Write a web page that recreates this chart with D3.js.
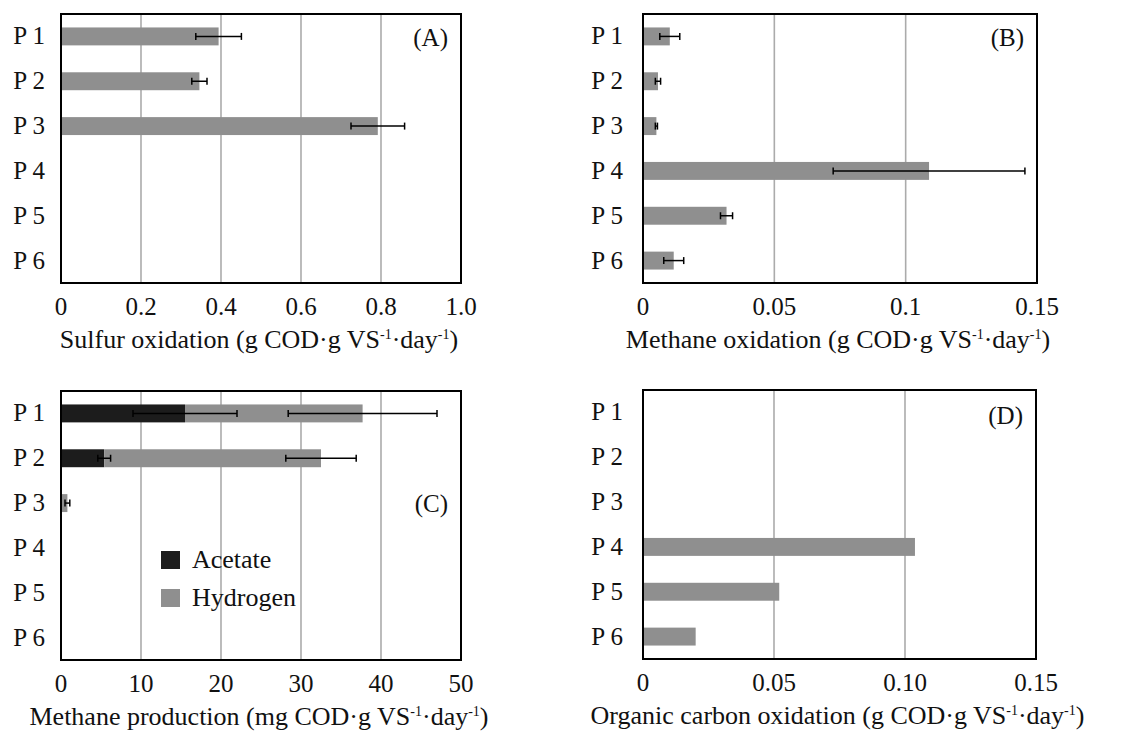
<!DOCTYPE html>
<html>
<head>
<meta charset="utf-8">
<script src="https://cdn.jsdelivr.net/npm/d3@7"></script>
<style>
  body { margin: 0; background: #fff; }
  svg text { font-family: "Liberation Serif", "Times New Roman", serif; fill: #111; }
</style>
</head>
<body>
<div id="chart"></div>
<script>
// rows, top to bottom
const rows = ["P 1", "P 2", "P 3", "P 4", "P 5", "P 6"];

// (A) sulfur oxidation, g COD/g VS/day
const sulfurVals = [0.394, 0.346, 0.792, null, null, null];
const sulfurErr  = [0.057, 0.019, 0.067, null, null, null];

// (B) methane oxidation
const methOxVals = [0.0102, 0.0057, 0.0051, 0.1089, 0.0318, 0.0117];
const methOxErr  = [0.0038, 0.0010, 0.0004, 0.0365, 0.0023, 0.0038];

// (C) methane production, mg COD/g VS/day (stacked)
const acetateVals = [15.5, 5.4, null, null, null, null];
const acetateErr  = [6.5, 0.8, null, null, null, null];
const hydrogenVals = [22.2, 27.1, 0.8, null, null, null];
const totalErr     = [9.3, 4.4, 0.3, null, null, null];

// (D) organic carbon oxidation
const orgCVals = [null, null, null, 0.1038, 0.052, 0.0201];

const ticksA = [0, 0.2, 0.4, 0.6, 0.8, 1.0];
const ticksB = [0, 0.05, 0.1, 0.15];
const ticksC = [0, 10, 20, 30, 40, 50];
const ticksD = [0, 0.05, 0.10, 0.15];

const W = 1129, H = 733;
const grey = "#8f8f8f", dark = "#1c1c1c", gridCol = "#ababab";
const fs = 25;

const svg = d3.select("#chart").append("svg")
  .attr("width", W).attr("height", H)
  .attr("font-family", "Liberation Serif, Times New Roman, serif");

function panel(opt){
  const g = svg.append("g").attr("transform", `translate(${opt.left},${opt.top})`);
  const x = d3.scaleLinear().domain([0, opt.max]).range([0, opt.w]);
  const y = d3.scaleBand().domain(rows).range([0, opt.h]).paddingInner(0.6).paddingOuter(0.3);

  // grid
  g.selectAll("line.grid")
    .data(opt.ticks.slice(1, -1))
    .join("line")
    .attr("x1", d => x(d)).attr("x2", d => x(d))
    .attr("y1", 0).attr("y2", opt.h)
    .attr("stroke", gridCol).attr("stroke-width", 1.6);

  // bars (stack segments)
  opt.series.forEach(s => {
    g.selectAll(null)
      .data(rows.map((r, i) => ({r, v: s.vals[i], base: s.base ? (s.base[i] || 0) : 0})).filter(d => d.v != null))
      .join("rect")
      .attr("x", d => x(d.base))
      .attr("y", d => y(d.r))
      .attr("width", d => x(d.base + d.v) - x(d.base))
      .attr("height", y.bandwidth())
      .attr("fill", s.color);
  });

  // error bars
  opt.errs.forEach(e => {
    const data = rows.map((r, i) => ({r, c: e.center[i], e: e.err[i]})).filter(d => d.c != null && d.e != null);
    const eg = g.selectAll(null).data(data).join("g")
      .attr("transform", d => `translate(0,${y(d.r) + y.bandwidth() / 2})`);
    eg.append("line")
      .attr("x1", d => x(d.c - d.e)).attr("x2", d => x(d.c + d.e))
      .attr("stroke", "#000").attr("stroke-width", 1.5);
    [-1, 1].forEach(sg => {
      eg.append("line")
        .attr("x1", d => x(d.c + sg * d.e)).attr("x2", d => x(d.c + sg * d.e))
        .attr("y1", -3.5).attr("y2", 3.5)
        .attr("stroke", "#000").attr("stroke-width", 1.5);
    });
  });

  // frame
  g.append("rect").attr("width", opt.w).attr("height", opt.h)
    .attr("fill", "none").attr("stroke", "#000").attr("stroke-width", 2);

  // row labels
  g.selectAll("text.row").data(rows).join("text")
    .attr("x", -opt.labelGap).attr("y", d => y(d) + y.bandwidth() / 2 + 8)
    .attr("text-anchor", "end").attr("font-size", fs).text(d => d);

  // tick labels
  g.selectAll("text.tick").data(opt.ticks).join("text")
    .attr("x", d => x(d)).attr("y", opt.h + 32)
    .attr("text-anchor", "middle").attr("font-size", fs)
    .text(d => opt.fmt(d));

  // axis title with superscripts
  const t = g.append("text").attr("x", opt.w / 2 - 2).attr("y", opt.h + 65)
    .attr("text-anchor", "middle").attr("font-size", 26);
  t.append("tspan").text(opt.title + " (" + opt.unit + " COD·g VS");
  t.append("tspan").attr("dy", -9).attr("font-size", 14).text("-1");
  t.append("tspan").attr("dy", 9).text("·day");
  t.append("tspan").attr("dy", -9).attr("font-size", 14).text("-1");
  t.append("tspan").attr("dy", 9).text(")");

  // panel letter
  g.append("text").attr("x", opt.w - 13).attr("y", opt.letterY)
    .attr("text-anchor", "end").attr("font-size", fs).text(opt.letter);

  return {g, x, y};
}

panel({
  left: 61, top: 14, w: 400, h: 269, max: 1.0, ticks: ticksA,
  fmt: d => d === 0 ? "0" : d3.format(".1f")(d),
  series: [{vals: sulfurVals, color: grey}],
  errs: [{center: sulfurVals, err: sulfurErr}],
  title: "Sulfur oxidation", unit: "g", letter: "(A)", letterY: 32, labelGap: 16
});

panel({
  left: 643, top: 14, w: 394, h: 269, max: 0.15, ticks: ticksB,
  fmt: d => d === 0 ? "0" : String(d),
  series: [{vals: methOxVals, color: grey}],
  errs: [{center: methOxVals, err: methOxErr}],
  title: "Methane oxidation", unit: "g", letter: "(B)", letterY: 32, labelGap: 20
});

const totals = hydrogenVals.map((h, i) => h == null ? null : h + (acetateVals[i] || 0));
const pc = panel({
  left: 61, top: 391, w: 400, h: 269, max: 50, ticks: ticksC,
  fmt: d => String(d),
  series: [{vals: acetateVals, color: dark}, {vals: hydrogenVals, base: acetateVals, color: grey}],
  errs: [{center: acetateVals, err: acetateErr}, {center: totals, err: totalErr}],
  title: "Methane production", unit: "mg", letter: "(C)", letterY: 121, labelGap: 16
});

// legend (C)
const legendItems = [["Acetate", dark], ["Hydrogen", grey]];
const lg = pc.g.append("g").attr("transform", "translate(100,160)");
lg.selectAll("g").data(legendItems).join("g")
  .attr("transform", (d, i) => `translate(0,${i * 38})`)
  .each(function(d){
    const s = d3.select(this);
    s.append("rect").attr("width", 19).attr("height", 18).attr("fill", d[1]);
    s.append("text").attr("x", 31).attr("y", 17).attr("font-size", 26).text(d[0]);
  });

panel({
  left: 643, top: 390, w: 393, h: 269, max: 0.15, ticks: ticksD,
  fmt: d => d === 0 ? "0" : d3.format(".2f")(d),
  series: [{vals: orgCVals, color: grey}],
  errs: [],
  title: "Organic carbon oxidation", unit: "g", letter: "(D)", letterY: 34, labelGap: 20
});
</script>
</body>
</html>
